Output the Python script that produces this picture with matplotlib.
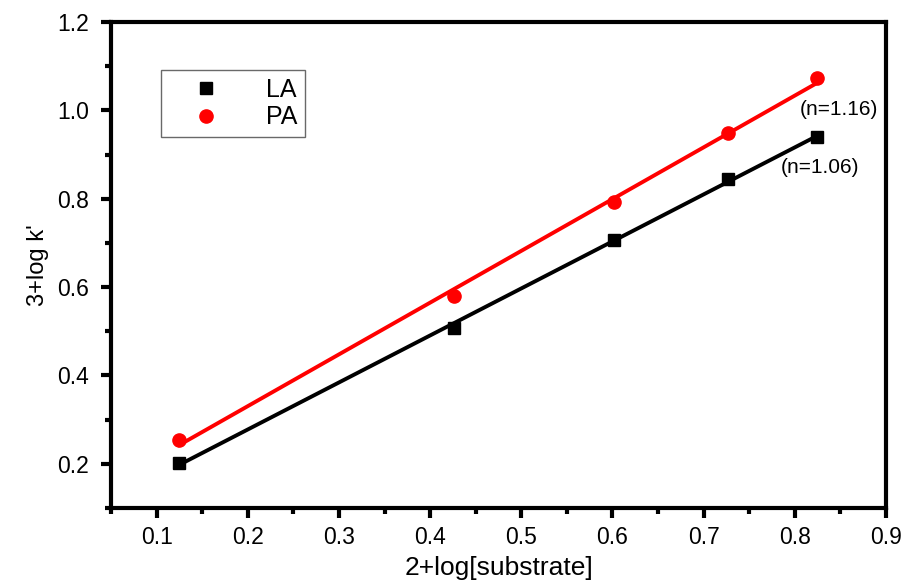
import numpy as np
import matplotlib
matplotlib.use("Agg")
import matplotlib.pyplot as plt
from matplotlib.ticker import MultipleLocator, FormatStrFormatter

plt.rcParams['font.family'] = ['Liberation Sans', 'DejaVu Sans']

# data
x_la = [0.125, 0.426, 0.602, 0.727, 0.824]
y_la = [0.203, 0.507, 0.707, 0.845, 0.940]
x_pa = [0.125, 0.426, 0.602, 0.727, 0.824]
y_pa = [0.254, 0.580, 0.793, 0.949, 1.073]
labels = ['LA', 'PA']
slope_labels = ['(n=1.06)', '(n=1.16)']

fig = plt.figure(figsize=(9.05, 5.83), dpi=100)
ax = fig.add_axes([0.1227, 0.1286, 0.8563, 0.8337])

# linear fits
for xs, ys, col in [(x_la, y_la, 'black'), (x_pa, y_pa, 'red')]:
    p = np.polyfit(xs, ys, 1)
    xf = np.array([min(xs), max(xs)])
    ax.plot(xf, np.polyval(p, xf), color=col, linewidth=2.8, zorder=2)

ax.plot(x_la, y_la, 's', color='black', markersize=8.5, linestyle='none', label=labels[0], zorder=3)
ax.plot(x_pa, y_pa, 'o', color='red', markersize=9.5, linestyle='none', label=labels[1], zorder=3)

ax.text(0.8485, 1.001, slope_labels[1], fontsize=15, ha='center', va='center')
ax.text(0.8277, 0.870, slope_labels[0], fontsize=15, ha='center', va='center')

ax.set_xlim(0.05, 0.9)
ax.set_ylim(0.1, 1.2)
ax.xaxis.set_major_locator(MultipleLocator(0.1))
ax.xaxis.set_minor_locator(MultipleLocator(0.05))
ax.yaxis.set_major_locator(MultipleLocator(0.2))
ax.yaxis.set_minor_locator(MultipleLocator(0.1))
ax.xaxis.set_major_formatter(FormatStrFormatter('%.1f'))
ax.yaxis.set_major_formatter(FormatStrFormatter('%.1f'))

for s in ax.spines.values():
    s.set_linewidth(3)
ax.tick_params(which='major', direction='out', length=7, width=3, labelsize=16.5,
               top=False, right=False, pad=6)
ax.tick_params(axis='y', which='major', pad=9)
ax.tick_params(which='minor', direction='out', length=4, width=3, top=False, right=False)

ax.set_xlabel('2+log[substrate]', fontsize=19, labelpad=5)
ax.set_ylabel("3+log k'", fontsize=17, labelpad=6)

leg = ax.legend(loc='upper left', bbox_to_anchor=(0.065, 0.901), borderaxespad=0,
                fontsize=18, frameon=True, fancybox=False, edgecolor='#444444',
                handletextpad=0.9, borderpad=0.3, labelspacing=0.15, handlelength=3.0)
leg.get_frame().set_linewidth(1.0)

fig.savefig('out.png', dpi=100)
